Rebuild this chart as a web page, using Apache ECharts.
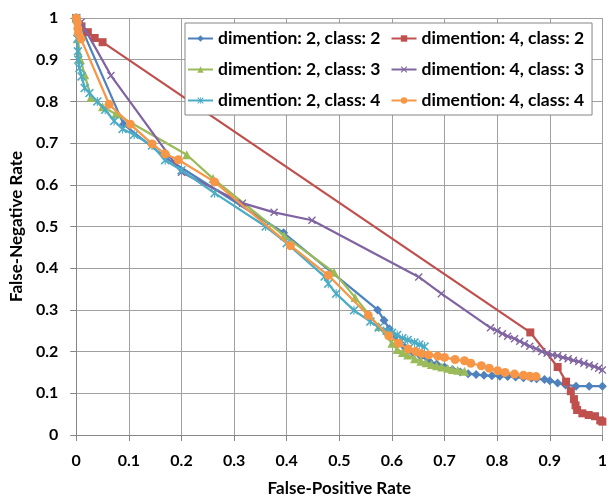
<!DOCTYPE html>
<html><head><meta charset="utf-8">
<script src="https://cdn.jsdelivr.net/npm/echarts@6/dist/echarts.min.js"></script>
<style>html,body{margin:0;padding:0;background:#fff}#c{width:610px;height:502px}</style>
</head><body><div id="c"></div>
<script>
const names = ['dimention: 2, class: 2','dimention: 4, class: 2','dimention: 2, class: 3','dimention: 4, class: 3','dimention: 2, class: 4','dimention: 4, class: 4'];
const xTicks = ['0','0.1','0.2','0.3','0.4','0.5','0.6','0.7','0.8','0.9','1'];
const d2c2 = [[0,1],[0.005,0.99],[0.09,0.745],[0.17,0.665],[0.394,0.485],[0.573,0.30],[0.585,0.275],[0.595,0.255],[0.605,0.235],[0.615,0.222],[0.625,0.21],[0.64,0.198],[0.655,0.188],[0.67,0.178],[0.685,0.17],[0.7,0.163],[0.715,0.157],[0.73,0.151],[0.745,0.147],[0.76,0.145],[0.775,0.143],[0.79,0.142],[0.805,0.141],[0.82,0.14],[0.835,0.139],[0.85,0.137],[0.865,0.136],[0.875,0.135],[0.89,0.133],[0.9,0.13],[0.915,0.125],[0.93,0.12],[0.95,0.117],[0.975,0.117],[1.0,0.117]];
const d4c2 = [[0,1],[0.01,0.98],[0.022,0.966],[0.035,0.952],[0.05,0.942],[0.863,0.246],[0.915,0.163],[0.931,0.128],[0.94,0.105],[0.946,0.086],[0.949,0.071],[0.952,0.06],[0.962,0.052],[0.974,0.048],[0.986,0.045],[0.996,0.035],[1.0,0.032]];
const d2c3 = [[0,1],[0.003,0.95],[0.008,0.9],[0.016,0.864],[0.028,0.81],[0.05,0.787],[0.075,0.77],[0.21,0.672],[0.26,0.615],[0.395,0.478],[0.49,0.39],[0.53,0.33],[0.575,0.26],[0.6,0.22],[0.61,0.205],[0.62,0.198],[0.63,0.192],[0.643,0.183],[0.655,0.177],[0.665,0.173],[0.675,0.169],[0.685,0.166],[0.695,0.163],[0.706,0.16],[0.715,0.157],[0.725,0.155],[0.738,0.153]];
const d4c3 = [[0,1],[0.009,0.99],[0.066,0.862],[0.2,0.63],[0.316,0.556],[0.376,0.534],[0.448,0.515],[0.651,0.379],[0.694,0.339],[0.7875,0.257],[0.8,0.25],[0.81,0.243],[0.82,0.237],[0.833,0.231],[0.843,0.225],[0.852,0.219],[0.862,0.213],[0.874,0.207],[0.885,0.2],[0.895,0.196],[0.905,0.192],[0.915,0.19],[0.925,0.186],[0.935,0.183],[0.945,0.179],[0.955,0.176],[0.965,0.172],[0.975,0.168],[0.985,0.164],[0.993,0.16],[1.0,0.156]];
const d2c4 = [[0,1],[0.002,0.95],[0.003,0.92],[0.004,0.9],[0.006,0.88],[0.01,0.86],[0.016,0.832],[0.025,0.82],[0.04,0.80],[0.055,0.78],[0.072,0.753],[0.088,0.734],[0.11,0.72],[0.144,0.694],[0.169,0.659],[0.2,0.635],[0.263,0.58],[0.36,0.5],[0.4,0.46],[0.472,0.38],[0.479,0.363],[0.494,0.339],[0.528,0.299],[0.559,0.272],[0.575,0.258],[0.59,0.25],[0.6,0.245],[0.61,0.24],[0.62,0.232],[0.63,0.228],[0.643,0.222],[0.652,0.217],[0.662,0.212]];
const d4c4 = [[0,1],[0.002,0.99],[0.003,0.975],[0.004,0.963],[0.009,0.95],[0.0625,0.793],[0.103,0.745],[0.144,0.698],[0.169,0.674],[0.194,0.66],[0.263,0.607],[0.407,0.454],[0.479,0.383],[0.555,0.287],[0.594,0.238],[0.6125,0.22],[0.631,0.206],[0.645,0.2],[0.656,0.195],[0.67,0.192],[0.687,0.189],[0.7,0.186],[0.72,0.181],[0.738,0.178],[0.75,0.172],[0.77,0.166],[0.785,0.16],[0.801,0.154],[0.815,0.15],[0.833,0.146],[0.85,0.143],[0.862,0.141],[0.874,0.14]];

const allData = [d2c2, d4c2, d2c3, d4c3, d2c4, d4c4];
const colors = ['#4F81BD','#C0504D','#9BBB59','#8064A2','#4BACC6','#F79646'];
const xShape = 'path://M0,1.2 L1.2,0 L5,3.8 L8.8,0 L10,1.2 L6.2,5 L10,8.8 L8.8,10 L5,6.2 L1.2,10 L0,8.8 L3.8,5 Z';
const starShape = 'path://M0,1.2 L1.2,0 L5,3.8 L8.8,0 L10,1.2 L6.2,5 L10,8.8 L8.8,10 L5,6.2 L1.2,10 L0,8.8 L3.8,5 Z M4.4,0 L5.6,0 L5.6,10 L4.4,10 Z';
const symbols = ['diamond','rect','triangle',xShape,starShape,'circle'];
const symSizes = [9,8,9,8,9,9];
const FONT = 'Lato, "Liberation Sans", sans-serif';

const chart = echarts.init(document.getElementById('c'));
chart.setOption({
  animation: false,
  backgroundColor: '#fff',
  grid: {left: 73, right: 4, top: 18, bottom: 63},
  legend: {
    data: names, left: 185, top: 23, width: 412,
    backgroundColor: '#fff', borderColor: '#868686', borderWidth: 1,
    padding: [5, 8, 4, 2], itemGap: 10, itemWidth: 25, itemHeight: 8,
    textStyle: {fontFamily: FONT, fontWeight: 'bold', fontSize: 17.5, color: '#000', lineHeight: 21}
  },
  xAxis: {
    type: 'value', min: 0, max: 1, interval: 0.1,
    name: 'False-Positive Rate', nameLocation: 'middle', nameGap: 45,
    nameTextStyle: {fontFamily: FONT, fontWeight: 'bold', fontSize: 17, color: '#000'},
    axisLine: {show: true, lineStyle: {color: '#868686', width: 1}},
    axisTick: {show: true, length: 6, lineStyle: {color: '#868686'}},
    axisLabel: {fontFamily: FONT, fontWeight: 'bold', fontSize: 16, color: '#000', margin: 18,
      formatter: (v) => xTicks[Math.round(v * 10)]},
    splitLine: {show: true, lineStyle: {color: '#a0a0a0', width: 1}}
  },
  yAxis: {
    type: 'value', min: 0, max: 1, interval: 0.1,
    name: 'False-Negative Rate', nameLocation: 'middle', nameGap: 45,
    nameTextStyle: {fontFamily: FONT, fontWeight: 'bold', fontSize: 17, color: '#000'},
    axisLine: {show: true, lineStyle: {color: '#868686', width: 1}},
    axisTick: {show: true, length: 6, lineStyle: {color: '#868686'}},
    axisLabel: {fontFamily: FONT, fontWeight: 'bold', fontSize: 16, color: '#000', margin: 18,
      formatter: (v) => xTicks[Math.round(v * 10)]},
    splitLine: {show: true, lineStyle: {color: '#a0a0a0', width: 1}}
  },
  series: names.map((n, i) => ({
    name: n, type: 'line', data: allData[i],
    symbol: symbols[i], symbolSize: symSizes[i], showAllSymbol: true,
    lineStyle: {color: colors[i], width: 2.25},
    itemStyle: {color: colors[i], borderWidth: 0},
    z: 2 + i
  }))
});
</script>
</body></html>
